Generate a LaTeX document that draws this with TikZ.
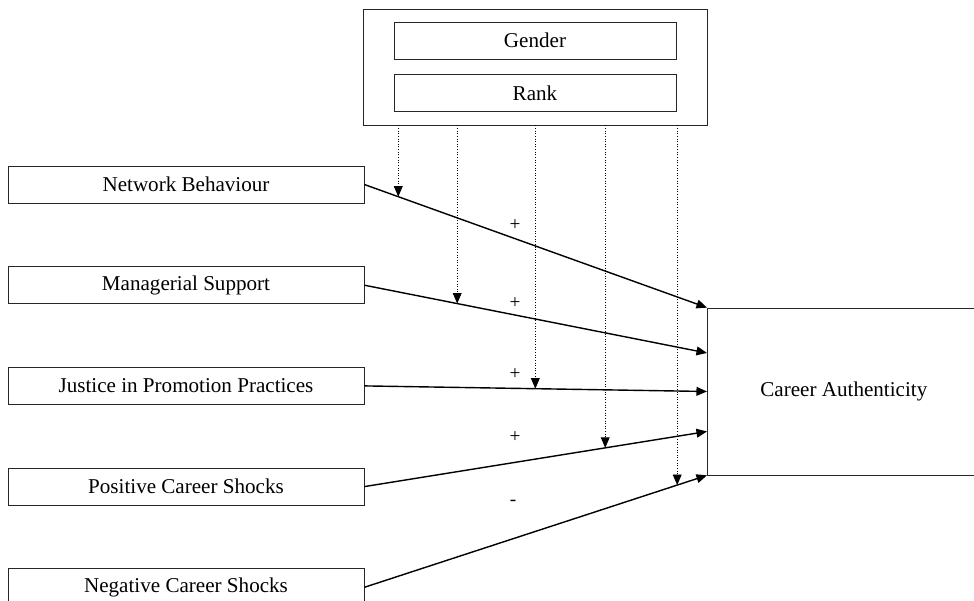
\documentclass[tikz,border=0pt]{standalone}
\usepackage{fontspec}
\setmainfont{Liberation Serif}
\usetikzlibrary{positioning,arrows.meta}

\begin{document}
\begin{tikzpicture}[node distance=1.26cm, auto, >={Triangle[length=6pt,width=5pt]}]
	% Define styles for boxes
	\tikzset{
		box/.style={
			rectangle,
			draw=black!85,
			minimum width=7.12cm,
			minimum height=0.74cm,
			text centered,
			font=\fontsize{12}{14}\selectfont
		},
		modbox/.style={
			rectangle,
			draw=black!85,
			minimum width=5.64cm,
			minimum height=0.74cm,
			text centered,
			font=\fontsize{12}{14}\selectfont
		},
		groupbox/.style={
			rectangle,
			draw=black!85,
			minimum width=6.88cm,
			minimum height=2.32cm
		},
		outbox/.style={
			rectangle,
			draw=black!85,
			minimum width=5.46cm,
			minimum height=3.34cm,
			font=\fontsize{12}{14}\selectfont
		},
		link/.style={->, line width=0.8pt},
		modlink/.style={->, densely dotted, line width=0.5pt},
		sign/.style={font=\fontsize{11}{13}\selectfont}
	}
	\useasboundingbox (0,0) rectangle (19.48,-12.02);
	
	% Moderators
	\node[groupbox] (moderators) at (10.7,-1.34) {};
	\node[modbox, below=0.26cm of moderators.north] (gender) {Gender};
	\node[modbox, below=0.3cm of gender] (rank) {Rank};
	
	% Predictors
	\node[box] (network) at (3.72,-3.69) {Network Behaviour};
	\node[box, below=of network] (managerial) {Managerial Support};
	\node[box, below=of managerial] (justice) {Justice in Promotion Practices};
	\node[box, below=of justice] (positive) {Positive Career Shocks};
	\node[box, below=of positive] (negative) {Negative Career Shocks};
	
	% Outcome
	\node[outbox, anchor=west] (authenticity) at (14.14,-7.83) {Career Authenticity};
	
	% Arrows from predictors to outcome
	\draw[link] (network.east) -- coordinate[pos=0.099] (hitnet) (authenticity.north west);
	\draw[link] (managerial.east) -- coordinate[pos=0.271] (hitman) ([yshift=0.77cm]authenticity.west);
	\draw[link] (justice.east) -- coordinate[pos=0.499] (hitjus) (authenticity.west);
	\draw[link] (positive.east) -- coordinate[pos=0.703] (hitpos) ([yshift=-0.8cm]authenticity.west);
	\draw[link] (negative.east) -- coordinate[pos=0.913] (hitneg) (authenticity.south west);
	
	% Moderating arrows
	\draw[modlink] (hitnet |- moderators.south) -- (hitnet);
	\draw[modlink] (hitman |- moderators.south) -- (hitman);
	\draw[modlink] (hitjus |- moderators.south) -- (hitjus);
	\draw[modlink] (hitpos |- moderators.south) -- (hitpos);
	\draw[modlink] (hitneg |- moderators.south) -- (hitneg);
	
	% Signs
	\node[sign] (signnet) at (10.3,-4.5) {+};
	\node[sign] (signman) at (10.3,-6.06) {+};
	\node[sign] (signjus) at (10.3,-7.48) {+};
	\node[sign] (signpos) at (10.3,-8.74) {+};
	\node[sign] (signneg) at (10.26,-10.06) {-};
\end{tikzpicture}
\end{document}
